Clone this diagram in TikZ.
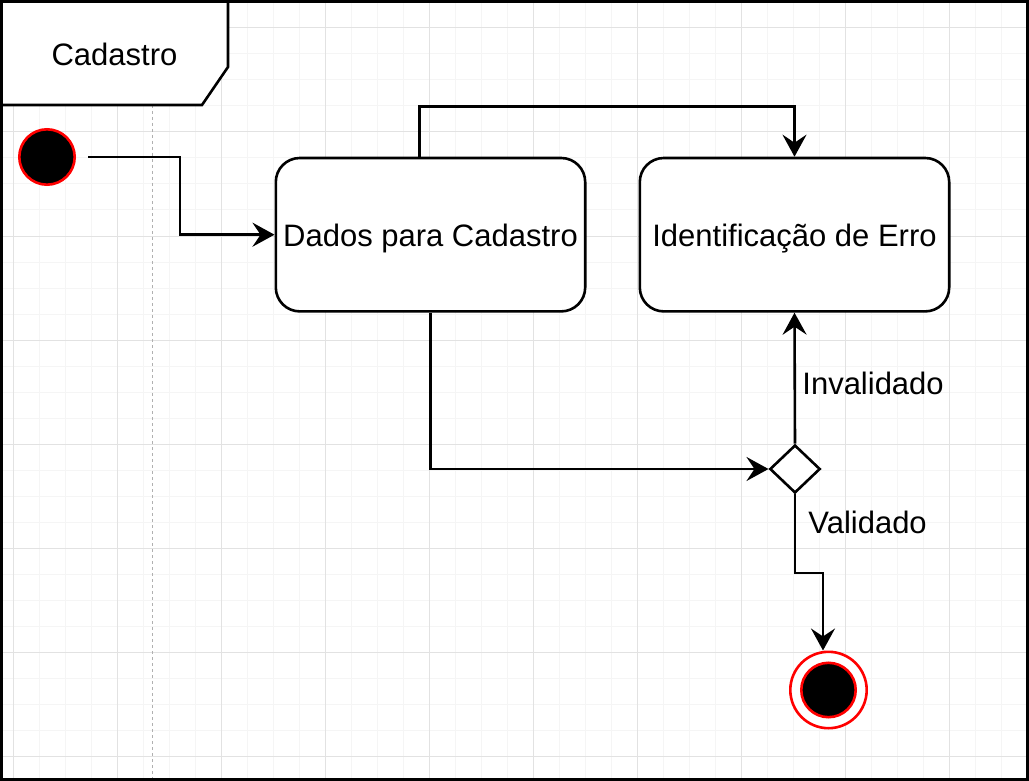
\documentclass[tikz,border=0pt]{standalone}
\usepackage{fontspec}
\setmainfont{Liberation Sans}
\usetikzlibrary{arrows.meta,shapes.geometric}
\definecolor{gmaj}{HTML}{E2E2E2}
\definecolor{gmin}{HTML}{F5F5F5}
\definecolor{dashg}{HTML}{B0B0B0}
\begin{document}
\begin{tikzpicture}[x=0.5pt,y=-0.5pt,
  lbl/.style={font=\fontsize{15.5pt}{18pt}\selectfont, inner sep=0pt},
  statebox/.style={draw, fill=white, line width=1.3pt, rounded corners=12pt,
    minimum width=154.7pt, minimum height=76.7pt, inner sep=0pt,
    text height=13pt, text depth=1pt, font=\fontsize{15.5pt}{18pt}\selectfont},
  arr/.style={line width=1.3pt, -{Stealth[length=11pt,width=12pt,inset=4pt]}},
  decision/.style={diamond, draw, fill=white, line width=1.3pt, inner sep=0pt,
    minimum width=25.2pt, minimum height=24pt},
  initial/.style={circle, draw=red, fill=black, line width=1.3pt, inner sep=0pt, minimum size=27.7pt},
]
\useasboundingbox (0,0) rectangle (1029,781);
\fill[white] (0,0) rectangle (1029,781);
% grid
\foreach \xx in {13,39,...,1029} \draw[gmin, line width=0.5pt] (\xx,0) -- (\xx,781);
\foreach \yy in {2,28,...,781} \draw[gmin, line width=0.5pt] (0,\yy) -- (1029,\yy);
\foreach \xx in {13,117,...,1029} \draw[gmaj, line width=0.5pt] (\xx,0) -- (\xx,781);
\foreach \yy in {28,132,...,781} \draw[gmaj, line width=0.5pt] (0,\yy) -- (1029,\yy);
% lane separator
\draw[dashg, line width=0.5pt, dash pattern=on 1.5pt off 1.5pt] (152.7,105) -- (152.7,781);
% frame header
\draw[line width=1.3pt, fill=white] (1.3,1.3) -- (228,1.3) -- (228,67) -- (202,105) -- (1.3,105) -- cycle;
\draw[line width=1.3pt] (1.3,1.3) rectangle (1027.7,779.7);
\node[lbl, anchor=base] (title) at (114.5,66) {Cadastro};
% nodes
\node[initial] (start) at (47,157) {};
\node[statebox] (dados) at (430.5,234.7) {Dados para Cadastro};
\node[statebox] (ident) at (794.5,234.7) {Identificação de Erro};
\node[decision] (diam) at (795,469) {};
\node[circle, draw=red, fill=white, line width=1.3pt, inner sep=0pt, minimum size=38.2pt] (endo) at (828.5,690) {};
\node[initial, minimum size=27.2pt] (endi) at (endo) {};
\coordinate (endtop) at ([xshift=-2.75pt]endo.north);
% connectors
\draw[arr] ([xshift=6pt]start.east) -- (180,157) |- (dados.west);
\draw[arr] ([xshift=-5.5pt]dados.north) |- ([yshift=25.2pt]ident.north) -- (ident.north);
\draw[arr] (dados.south) |- (diam.west);
\draw[arr] (diam.north) -- (ident.south);
\draw[arr] (diam.south) |- (823,573) -- (endtop);
% labels
\node[lbl, anchor=base west] (linv) at (802,394) {Invalidado};
\node[lbl, anchor=base west] (lval) at (808,533) {Validado};
\end{tikzpicture}
\end{document}
